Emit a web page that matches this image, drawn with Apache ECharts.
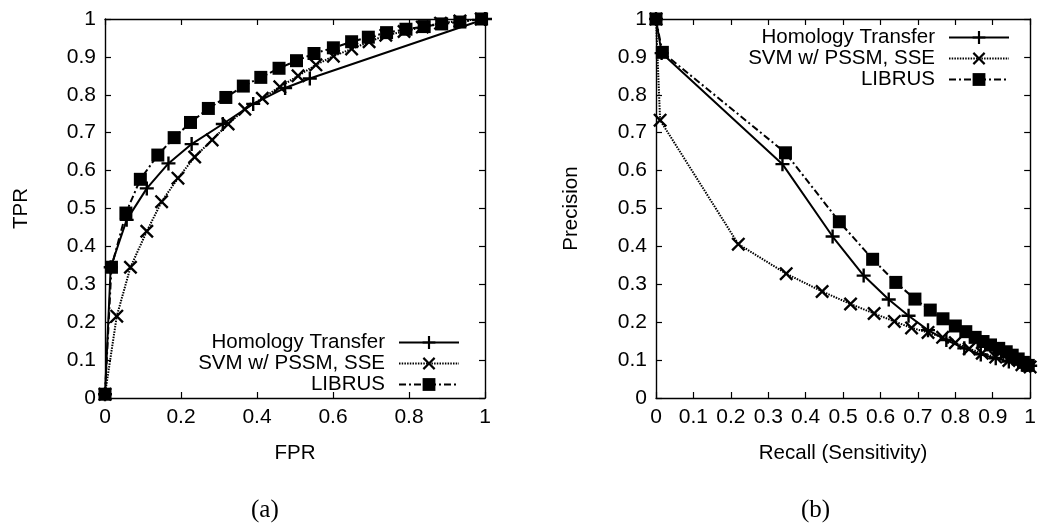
<!DOCTYPE html>
<html>
<head>
<meta charset="utf-8">
<script src="https://cdn.jsdelivr.net/npm/echarts@6/dist/echarts.min.js"></script>
<style>
  html, body { margin: 0; padding: 0; background: #fff; }
  #chart { width: 1039px; height: 529px; }
</style>
</head>
<body>
<div id="chart"></div>
<script>
// (a) ROC curves: [FPR, TPR]
const rocHomology = [[0,0.01],[0.015,0.345],[0.057,0.47],[0.11,0.553],[0.167,0.619],[0.228,0.67],[0.31,0.723],[0.39,0.776],[0.474,0.818],[0.539,0.843],[1,1]];
const rocSvm = [[0,0.01],[0.031,0.216],[0.067,0.345],[0.11,0.44],[0.149,0.518],[0.192,0.58],[0.236,0.636],[0.282,0.681],[0.324,0.723],[0.368,0.762],[0.414,0.791],[0.46,0.821],[0.508,0.85],[0.555,0.879],[0.601,0.902],[0.649,0.921],[0.695,0.94],[0.739,0.957],[0.787,0.967],[0.835,0.979],[0.883,0.989],[0.934,0.995],[0.99,1]];
const rocLibrus = [[0,0.01],[0.017,0.345],[0.055,0.488],[0.093,0.577],[0.139,0.641],[0.182,0.687],[0.225,0.727],[0.272,0.764],[0.318,0.793],[0.364,0.823],[0.41,0.846],[0.458,0.87],[0.504,0.89],[0.55,0.909],[0.601,0.924],[0.649,0.94],[0.693,0.952],[0.741,0.964],[0.792,0.973],[0.84,0.98],[0.886,0.987],[0.934,0.992],[0.991,1]];

// (b) precision-recall curves: [recall, precision]
const prHomology = [[0,1],[0.015,0.91],[0.338,0.617],[0.472,0.426],[0.555,0.323],[0.622,0.26],[0.675,0.217],[0.727,0.179],[0.776,0.153],[0.824,0.131],[0.868,0.115],[0.908,0.105],[0.943,0.096],[0.978,0.088],[1,0.085]];
const prSvm = [[0,1],[0.011,0.733],[0.22,0.406],[0.348,0.328],[0.444,0.281],[0.52,0.248],[0.583,0.223],[0.637,0.202],[0.683,0.185],[0.727,0.173],[0.766,0.16],[0.8,0.146],[0.837,0.13],[0.872,0.118],[0.908,0.108],[0.943,0.099],[0.978,0.088],[1,0.082]];
const prLibrus = [[0,1],[0.017,0.912],[0.346,0.647],[0.49,0.465],[0.579,0.366],[0.641,0.305],[0.692,0.261],[0.733,0.232],[0.767,0.209],[0.8,0.19],[0.828,0.175],[0.853,0.16],[0.874,0.149],[0.894,0.14],[0.916,0.131],[0.936,0.122],[0.952,0.113],[0.968,0.103],[0.982,0.094],[0.995,0.086]];

const seriesNames = ['Homology Transfer', 'SVM w/ PSSM, SSE', 'LIBRUS'];
const panelCaptions = ['(a)', '(b)'];
const axisNames = { rocX: 'FPR', rocY: 'TPR', prX: 'Recall (Sensitivity)', prY: 'Precision' };

const FONT = '"Liberation Sans", Arial, sans-serif';
const TICK_SIZE = 21;
const TEXT_SIZE = 20.5;
const PLUS = 'path://M4.15,0H5.85V4.15H10V5.85H5.85V10H4.15V5.85H0V4.15H4.15Z';
const CROSS = 'path://M0,1.2L1.2,0L5,3.8L8.8,0L10,1.2L6.2,5L10,8.8L8.8,10L5,6.2L1.2,10L0,8.8L3.8,5Z';

const styles = [
  { symbol: PLUS, symbolSize: 14, lineStyle: { color: '#000', width: 2, type: 'solid' } },
  { symbol: CROSS, symbolSize: 14, lineStyle: { color: '#000', width: 2, type: [1.5, 1.2] } },
  { symbol: 'rect', symbolSize: 13, lineStyle: { color: '#000', width: 2, type: [7, 3, 2, 3] } }
];

function makeSeries(data, idx, axisIdx) {
  const s = styles[idx];
  return {
    type: 'line',
    name: seriesNames[idx],
    xAxisIndex: axisIdx,
    yAxisIndex: axisIdx,
    data: data,
    symbol: s.symbol,
    symbolSize: s.symbolSize,
    showAllSymbol: true,
    clip: false,
    animation: false,
    itemStyle: { color: '#000' },
    lineStyle: s.lineStyle,
    emphasis: { disabled: true },
    z: 3 - idx
  };
}

function valueAxis(gridIndex, position, interval, name, nameGap, showLabel) {
  return {
    type: 'value',
    gridIndex: gridIndex,
    position: position,
    min: 0, max: 1, interval: interval,
    name: showLabel ? name : '',
    nameLocation: 'middle',
    nameGap: nameGap,
    nameTextStyle: { fontFamily: FONT, fontSize: TEXT_SIZE, color: '#000' },
    axisLine: { show: true, onZero: false, lineStyle: { color: '#000', width: 1.4 } },
    axisTick: { show: true, inside: true, length: 6, lineStyle: { color: '#000', width: 1.2 } },
    axisLabel: { show: showLabel, fontFamily: FONT, fontSize: TICK_SIZE, color: '#000', margin: 9 },
    splitLine: { show: false }
  };
}

function legendFor(idx, right, top) {
  return {
    data: [seriesNames[idx]],
    orient: 'vertical',
    align: 'right',
    right: right,
    top: top,
    padding: 0,
    itemWidth: 60,
    itemHeight: 16,
    selectedMode: false,
    textStyle: { fontFamily: FONT, fontSize: TEXT_SIZE, color: '#000', padding: [0, 9, 0, 0] }
  };
}

const chart = echarts.init(document.getElementById('chart'), null, { renderer: 'canvas' });

chart.setOption({
  backgroundColor: '#fff',
  animation: false,
  grid: [
    { left: 105, top: 19, width: 380, height: 379 },
    { left: 656, top: 19, width: 379, height: 379 }
  ],
  xAxis: [
    valueAxis(0, 'bottom', 0.2, axisNames.rocX, 45, true),
    valueAxis(0, 'top', 0.2, '', 0, false),
    valueAxis(1, 'bottom', 0.1, axisNames.prX, 45, true),
    valueAxis(1, 'top', 0.1, '', 0, false)
  ],
  yAxis: [
    valueAxis(0, 'left', 0.1, axisNames.rocY, 73, true),
    valueAxis(0, 'right', 0.1, '', 0, false),
    valueAxis(1, 'left', 0.1, axisNames.prY, 74, true),
    valueAxis(1, 'right', 0.1, '', 0, false)
  ],
  legend: [
    legendFor(0, 579, 332),
    legendFor(1, 579, 353),
    legendFor(2, 579, 374),
    legendFor(0, 29, 27),
    legendFor(1, 29, 48),
    legendFor(2, 29, 69)
  ],
  series: [
    makeSeries(rocHomology, 0, 0),
    makeSeries(rocSvm, 1, 0),
    makeSeries(rocLibrus, 2, 0),
    makeSeries(prHomology, 0, 2),
    makeSeries(prSvm, 1, 2),
    makeSeries(prLibrus, 2, 2)
  ],
  graphic: [
    { type: 'text', left: 265 - 14, top: 498, style: { text: panelCaptions[0], font: '25px "Liberation Serif", "DejaVu Serif", serif', fill: '#000' } },
    { type: 'text', left: 815 - 14, top: 498, style: { text: panelCaptions[1], font: '25px "Liberation Serif", "DejaVu Serif", serif', fill: '#000' } }
  ]
});
</script>
</body>
</html>
